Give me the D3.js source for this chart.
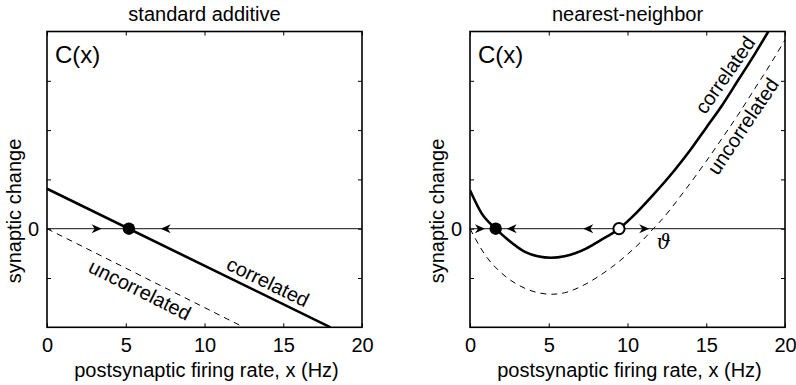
<!DOCTYPE html>
<html>
<head>
<meta charset="utf-8">
<script src="https://cdn.jsdelivr.net/npm/d3@7"></script>
<style>
  body { margin: 0; background: #fff; }
  svg { display: block; font-family: "Liberation Sans", Arial, Helvetica, sans-serif; }
</style>
</head>
<body>
<div id="chart"></div>
<script>
// axis setup shared by both panels
const xDomain = [0, 20];
const yDomain = [-2, 4];
const xTicks = [0, 5, 10, 15, 20];
const yTicks = [-1, 0, 1, 2, 3];
const panelTitles = ["standard additive", "nearest-neighbor"];

// left panel: standard additive rule
const additiveCorrelated = [[0, 0.81], [18, -2.0]];
const additiveUncorrelated = [[0, 0], [12.5, -2.0]];
const additiveFixedPoints = [{ x: 5.2, stable: true }];
const additiveArrows = [{ x: 3.47, dir: 1 }, { x: 7.22, dir: -1 }];

// right panel: nearest-neighbor rule
const nnCorrelated = [
  [0, 0.78], [0.74, 0.31], [1.63, 0], [2.43, -0.23], [3.49, -0.47], [4.3, -0.56],
  [5.14, -0.59], [6, -0.56], [6.67, -0.5], [7.4, -0.4], [8.15, -0.26], [9.46, 0],
  [10.5, 0.3], [11.5, 0.64], [13, 1.19], [14, 1.6], [15, 2.05], [16, 2.5],
  [17, 3.0], [18, 3.5], [18.94, 4.0]
];
const nnUncorrelated = [
  [0, 0], [1, -0.55], [2, -0.9], [3, -1.13], [4, -1.27], [5.2, -1.33], [6, -1.3],
  [7, -1.18], [8, -1.0], [9, -0.78], [10, -0.52], [11, -0.22], [11.64, 0], [12, 0.12],
  [13.65, 0.78], [15, 1.37], [16, 1.83], [17, 2.3], [18, 2.8], [19, 3.3], [20, 3.83]
];
const nnFixedPoints = [{ x: 1.63, stable: true }, { x: 9.46, stable: false }];
const nnArrows = [
  { x: 0.95, dir: 1 }, { x: 2.33, dir: -1 }, { x: 7.19, dir: -1 }, { x: 11.38, dir: 1 }
];

const width = 796, height = 385;
const plotTop = 31.5, plotBottom = 327.3;
const fontSize = 20;

const svg = d3.select("#chart").append("svg")
  .attr("width", width)
  .attr("height", height);

svg.append("rect").attr("width", width).attr("height", height).attr("fill", "#fff");

const panels = [
  {
    left: 47, right: 362, title: panelTitles[0],
    correlated: additiveCorrelated, uncorrelated: additiveUncorrelated,
    fixed: additiveFixedPoints, arrows: additiveArrows, curve: d3.curveLinear,
    labels: [
      { text: "correlated", x: 14.03, y: -1.08, angle: 26 },
      { text: "uncorrelated", x: 5.9, y: -1.24, angle: 26.6 }
    ],
    theta: null
  },
  {
    left: 470, right: 785, title: panelTitles[1],
    correlated: nnCorrelated, uncorrelated: nnUncorrelated,
    fixed: nnFixedPoints, arrows: nnArrows, curve: d3.curveMonotoneX,
    labels: [
      { text: "correlated", x: 16.19, y: 3.12, angle: -55 },
      { text: "uncorrelated", x: 17.33, y: 2.08, angle: -56 }
    ],
    theta: { x: 12.29, y: -0.27 }
  }
];

panels.forEach((p, i) => drawPanel(p, i));

function drawPanel(p, i) {
  const x = d3.scaleLinear().domain(xDomain).range([p.left, p.right]);
  const y = d3.scaleLinear().domain(yDomain).range([plotBottom, plotTop]);
  const g = svg.append("g");

  const clipId = "clip" + i;
  g.append("clipPath").attr("id", clipId)
    .append("rect")
    .attr("x", p.left).attr("y", plotTop)
    .attr("width", p.right - p.left).attr("height", plotBottom - plotTop);

  // inward ticks on all four sides, labels only bottom and left
  const bottomAxis = d3.axisBottom(x).tickValues(xTicks).tickSize(-4).tickPadding(11);
  const topAxis = d3.axisTop(x).tickValues(xTicks).tickSize(-4).tickFormat("");
  const leftAxis = d3.axisLeft(y).tickValues(yTicks).tickSize(-4).tickPadding(8)
    .tickFormat(d => d === 0 ? "0" : "");
  const rightAxis = d3.axisRight(y).tickValues(yTicks).tickSize(-4).tickFormat("");

  [[bottomAxis, `translate(0,${plotBottom})`], [topAxis, `translate(0,${plotTop})`],
   [leftAxis, `translate(${p.left},0)`], [rightAxis, `translate(${p.right},0)`]]
    .forEach(([axis, tr]) => {
      const a = g.append("g").attr("transform", tr).call(axis);
      a.select(".domain").remove();
      a.selectAll(".tick line").attr("stroke", "#000").attr("stroke-width", 1);
      a.selectAll("text")
        .attr("font-family", "Liberation Sans, Arial, sans-serif")
        .attr("font-size", fontSize)
        .attr("fill", "#000");
    });

  // zero line
  g.append("line")
    .attr("x1", p.left).attr("x2", p.right)
    .attr("y1", y(0)).attr("y2", y(0))
    .attr("stroke", "#111").attr("stroke-width", 1);

  const line = d3.line().x(d => x(d[0])).y(d => y(d[1])).curve(p.curve);
  const curves = g.append("g").attr("clip-path", `url(#${clipId})`);

  curves.append("path")
    .attr("d", line(p.uncorrelated))
    .attr("fill", "none")
    .attr("stroke", "#000")
    .attr("stroke-width", 1)
    .attr("stroke-dasharray", "6,5");

  curves.append("path")
    .attr("d", line(p.correlated))
    .attr("fill", "none")
    .attr("stroke", "#000")
    .attr("stroke-width", 2.6);

  // flow arrows along zero line
  g.selectAll(".arrow")
    .data(p.arrows)
    .enter().append("path")
    .attr("class", "arrow")
    .attr("d", "M0,0 L-10,-4.5 L-7,0 L-10,4.5 Z")
    .attr("transform", d => `translate(${x(d.x)},${y(0)}) scale(${d.dir},1)`)
    .attr("fill", "#000");

  // fixed points
  g.selectAll(".fixed")
    .data(p.fixed)
    .enter().append("circle")
    .attr("class", "fixed")
    .attr("cx", d => x(d.x))
    .attr("cy", y(0))
    .attr("r", d => d.stable ? 6.2 : 5.6)
    .attr("fill", d => d.stable ? "#000" : "#fff")
    .attr("stroke", "#000")
    .attr("stroke-width", d => d.stable ? 0 : 2);

  // frame
  g.append("rect")
    .attr("x", p.left).attr("y", plotTop)
    .attr("width", p.right - p.left).attr("height", plotBottom - plotTop)
    .attr("fill", "none")
    .attr("stroke", "#000")
    .attr("stroke-width", 1.6);

  // curve labels
  g.selectAll(".curve-label")
    .data(p.labels)
    .enter().append("text")
    .attr("class", "curve-label")
    .attr("transform", d => `translate(${x(d.x)},${y(d.y)}) rotate(${d.angle})`)
    .attr("text-anchor", "middle")
    .attr("dy", "0.35em")
    .attr("font-size", fontSize)
    .text(d => d.text);

  if (p.theta) {
    g.append("text")
      .attr("x", x(p.theta.x)).attr("y", y(p.theta.y))
      .attr("dy", "0.35em")
      .attr("text-anchor", "middle")
      .attr("font-family", "DejaVu Serif, Liberation Serif, serif")
      .attr("font-style", "italic")
      .attr("font-size", 20)
      .text("\u03D1");
  }

  g.append("text")
    .attr("x", p.left + 8).attr("y", 63)
    .attr("font-size", 24)
    .text("C(x)");

  g.append("text")
    .attr("x", (p.left + p.right) / 2).attr("y", 20.5)
    .attr("text-anchor", "middle")
    .attr("font-size", fontSize)
    .text(p.title);

  g.append("text")
    .attr("x", (p.left + p.right) / 2 + 2).attr("y", 377)
    .attr("text-anchor", "middle")
    .attr("font-size", fontSize)
    .text("postsynaptic firing rate, x (Hz)");

  g.append("text")
    .attr("transform", `translate(${p.left - 26},211) rotate(-90)`)
    .attr("text-anchor", "middle")
    .attr("font-size", fontSize)
    .text("synaptic change");
}
</script>
</body>
</html>
